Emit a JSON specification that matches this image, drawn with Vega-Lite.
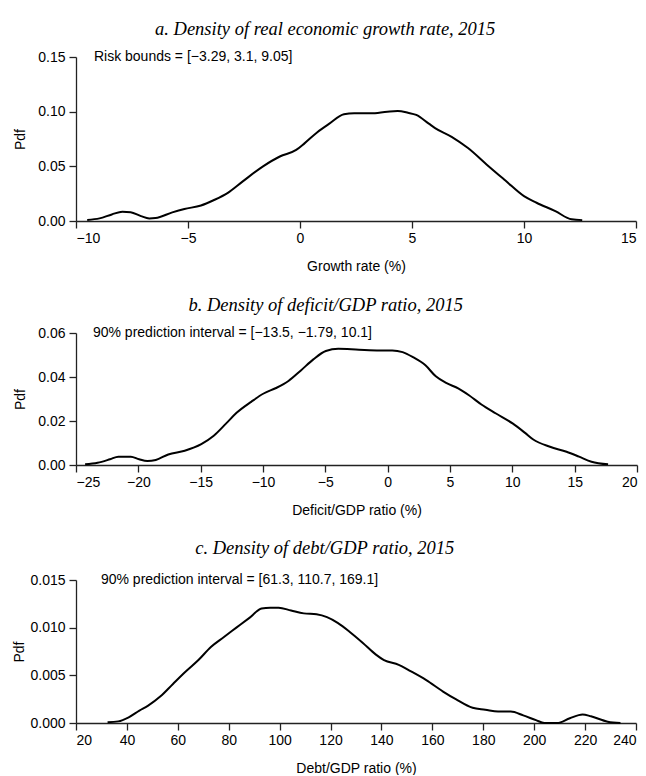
{
  "$schema": "https://vega.github.io/schema/vega-lite/v6.json",
  "background": "white",
  "padding": {"left": 12, "top": 19, "right": 6, "bottom": 0},
  "spacing": 22,
  "config": {
    "view": {"stroke": null},
    "font": "Liberation Sans",
    "title": {"font": "Liberation Serif", "fontStyle": "italic", "fontWeight": "normal", "fontSize": 18.5, "color": "black", "anchor": "middle", "frame": "bounds", "offset": 12},
    "axis": {
      "grid": false, "domainColor": "#222", "tickColor": "#222", "domainWidth": 1.3, "tickWidth": 1.3,
      "tickSize": 7, "labelFont": "Liberation Sans", "labelFontSize": 14, "labelColor": "black",
      "titleFont": "Liberation Sans", "titleFontSize": 14, "titleFontWeight": "normal", "titleColor": "black"
    },
    "axisX": {"labelPadding": 3, "titlePadding": 14},
    "axisY": {"labelPadding": 4, "titlePadding": 10}
  },
  "datasets": {
    "growth": [
      {"rate": -9.5, "pdf": 0.001}, {"rate": -8.95, "pdf": 0.0024}, {"rate": -8.4, "pdf": 0.006}, {"rate": -7.93, "pdf": 0.0085},
      {"rate": -7.56, "pdf": 0.008}, {"rate": -7.1, "pdf": 0.0045}, {"rate": -6.73, "pdf": 0.0024}, {"rate": -6.45, "pdf": 0.0027},
      {"rate": -5.7, "pdf": 0.0079}, {"rate": -5.16, "pdf": 0.011}, {"rate": -4.42, "pdf": 0.0142}, {"rate": -3.86, "pdf": 0.019},
      {"rate": -3.22, "pdf": 0.0258}, {"rate": -2.57, "pdf": 0.036}, {"rate": -1.65, "pdf": 0.05}, {"rate": -0.9, "pdf": 0.059},
      {"rate": -0.17, "pdf": 0.065}, {"rate": 0.2, "pdf": 0.071}, {"rate": 0.76, "pdf": 0.081}, {"rate": 1.31, "pdf": 0.089},
      {"rate": 1.96, "pdf": 0.0976}, {"rate": 2.42, "pdf": 0.0985}, {"rate": 3.16, "pdf": 0.0985}, {"rate": 3.9, "pdf": 0.1},
      {"rate": 4.36, "pdf": 0.1006}, {"rate": 4.82, "pdf": 0.099}, {"rate": 5.19, "pdf": 0.097}, {"rate": 5.75, "pdf": 0.089},
      {"rate": 6.03, "pdf": 0.085}, {"rate": 6.77, "pdf": 0.077}, {"rate": 7.5, "pdf": 0.0667}, {"rate": 8.34, "pdf": 0.0515},
      {"rate": 9.17, "pdf": 0.037}, {"rate": 10.0, "pdf": 0.0227}, {"rate": 10.56, "pdf": 0.0167}, {"rate": 11.4, "pdf": 0.009},
      {"rate": 12.13, "pdf": 0.0015}, {"rate": 12.6, "pdf": 0.0008}
    ],
    "deficit": [
      {"ratio": -24.27, "pdf": 0.0003}, {"ratio": -23.27, "pdf": 0.001}, {"ratio": -22.27, "pdf": 0.0026}, {"ratio": -21.6, "pdf": 0.0038},
      {"ratio": -20.6, "pdf": 0.0038}, {"ratio": -19.94, "pdf": 0.0026}, {"ratio": -19.27, "pdf": 0.0018}, {"ratio": -18.6, "pdf": 0.0023},
      {"ratio": -17.6, "pdf": 0.0048}, {"ratio": -16.28, "pdf": 0.0065}, {"ratio": -14.95, "pdf": 0.0095}, {"ratio": -13.95, "pdf": 0.0133},
      {"ratio": -12.95, "pdf": 0.0189}, {"ratio": -12.12, "pdf": 0.0237}, {"ratio": -10.95, "pdf": 0.0287}, {"ratio": -9.95, "pdf": 0.0325},
      {"ratio": -8.95, "pdf": 0.035}, {"ratio": -7.96, "pdf": 0.0382}, {"ratio": -6.96, "pdf": 0.043}, {"ratio": -5.96, "pdf": 0.048},
      {"ratio": -4.96, "pdf": 0.0518}, {"ratio": -3.96, "pdf": 0.0528}, {"ratio": -2.3, "pdf": 0.0524}, {"ratio": -0.63, "pdf": 0.0521},
      {"ratio": 0.37, "pdf": 0.0521}, {"ratio": 1.2, "pdf": 0.0513}, {"ratio": 2.03, "pdf": 0.049}, {"ratio": 3.03, "pdf": 0.0453},
      {"ratio": 3.86, "pdf": 0.0403}, {"ratio": 4.69, "pdf": 0.0373}, {"ratio": 5.69, "pdf": 0.0347}, {"ratio": 6.52, "pdf": 0.0317},
      {"ratio": 7.52, "pdf": 0.0275}, {"ratio": 8.69, "pdf": 0.0234}, {"ratio": 10.02, "pdf": 0.0189}, {"ratio": 11.02, "pdf": 0.0146},
      {"ratio": 11.68, "pdf": 0.0116}, {"ratio": 13.02, "pdf": 0.0083}, {"ratio": 14.35, "pdf": 0.006}, {"ratio": 15.35, "pdf": 0.0038},
      {"ratio": 16.35, "pdf": 0.0015}, {"ratio": 17.68, "pdf": 0.0003}
    ],
    "debt": [
      {"ratio": 32.4, "pdf": 0.00007}, {"ratio": 36.6, "pdf": 0.00017}, {"ratio": 40.7, "pdf": 0.0006}, {"ratio": 44.9, "pdf": 0.0013},
      {"ratio": 48.2, "pdf": 0.0018}, {"ratio": 53.2, "pdf": 0.0028}, {"ratio": 58.1, "pdf": 0.0041}, {"ratio": 63.1, "pdf": 0.0054},
      {"ratio": 68.1, "pdf": 0.0066}, {"ratio": 73.1, "pdf": 0.008}, {"ratio": 78.0, "pdf": 0.009}, {"ratio": 83.0, "pdf": 0.01},
      {"ratio": 88.0, "pdf": 0.011}, {"ratio": 92.9, "pdf": 0.012}, {"ratio": 96.3, "pdf": 0.0121}, {"ratio": 99.6, "pdf": 0.0121},
      {"ratio": 104.5, "pdf": 0.0118}, {"ratio": 109.5, "pdf": 0.0115}, {"ratio": 114.5, "pdf": 0.0114}, {"ratio": 118.6, "pdf": 0.0111},
      {"ratio": 122.8, "pdf": 0.0105}, {"ratio": 127.8, "pdf": 0.0095}, {"ratio": 132.7, "pdf": 0.0084}, {"ratio": 137.7, "pdf": 0.0072},
      {"ratio": 141.0, "pdf": 0.0066}, {"ratio": 146.8, "pdf": 0.0061}, {"ratio": 151.0, "pdf": 0.0055}, {"ratio": 157.6, "pdf": 0.0045},
      {"ratio": 164.2, "pdf": 0.0033}, {"ratio": 169.2, "pdf": 0.0025}, {"ratio": 175.8, "pdf": 0.0016}, {"ratio": 180.8, "pdf": 0.0014},
      {"ratio": 185.8, "pdf": 0.0012}, {"ratio": 190.8, "pdf": 0.0012}, {"ratio": 195.7, "pdf": 0.0008}, {"ratio": 200.7, "pdf": 0.0003},
      {"ratio": 204.0, "pdf": 0.0}, {"ratio": 209.0, "pdf": 0.0}, {"ratio": 214.0, "pdf": 0.0005}, {"ratio": 219.0, "pdf": 0.0009},
      {"ratio": 222.3, "pdf": 0.0007}, {"ratio": 228.9, "pdf": 0.00014}, {"ratio": 233.9, "pdf": 0.0}
    ]
  },
  "vconcat": [
    {
      "title": "a. Density of real economic growth rate, 2015",
      "width": 560, "height": 164,
      "layer": [
        {
          "data": {"name": "growth"},
          "mark": {"type": "line", "color": "black", "strokeWidth": 2, "interpolate": "monotone"},
          "encoding": {
            "x": {"field": "rate", "type": "quantitative", "title": "Growth rate (%)",
                  "scale": {"domain": [-10, 15], "nice": false}, "axis": {"values": [-10, -5, 0, 5, 10, 15]}},
            "y": {"field": "pdf", "type": "quantitative", "title": "Pdf",
                  "scale": {"domain": [0, 0.15], "nice": false}, "axis": {"values": [0, 0.05, 0.1, 0.15], "format": ".2f"}}
          }
        },
        {
          "data": {"values": [{"label": "Risk bounds = [−3.29, 3.1, 9.05]"}]},
          "mark": {"type": "text", "align": "left", "baseline": "middle", "fontSize": 14, "color": "black"},
          "encoding": {"x": {"datum": -9.2}, "y": {"datum": 0.15}, "text": {"field": "label"}}
        }
      ]
    },
    {
      "title": "b. Density of deficit/GDP ratio, 2015",
      "width": 561, "height": 132,
      "layer": [
        {
          "data": {"name": "deficit"},
          "mark": {"type": "line", "color": "black", "strokeWidth": 2, "interpolate": "monotone"},
          "encoding": {
            "x": {"field": "ratio", "type": "quantitative", "title": "Deficit/GDP ratio (%)",
                  "scale": {"domain": [-25, 20], "nice": false}, "axis": {"values": [-25, -20, -15, -10, -5, 0, 5, 10, 15, 20]}},
            "y": {"field": "pdf", "type": "quantitative", "title": "Pdf",
                  "scale": {"domain": [0, 0.06], "nice": false}, "axis": {"values": [0, 0.02, 0.04, 0.06], "format": ".2f"}}
          }
        },
        {
          "data": {"values": [{"label": "90% prediction interval = [−13.5, −1.79, 10.1]"}]},
          "mark": {"type": "text", "align": "left", "baseline": "middle", "fontSize": 14, "color": "black"},
          "encoding": {"x": {"datum": -23.64}, "y": {"datum": 0.06}, "text": {"field": "label"}}
        }
      ]
    },
    {
      "title": {"text": "c. Density of debt/GDP ratio, 2015", "offset": 15.5},
      "width": 560, "height": 143,
      "layer": [
        {
          "data": {"name": "debt"},
          "mark": {"type": "line", "color": "black", "strokeWidth": 2, "interpolate": "monotone"},
          "encoding": {
            "x": {"field": "ratio", "type": "quantitative", "title": "Debt/GDP ratio (%)",
                  "scale": {"domain": [20, 240], "nice": false}, "axis": {"values": [20, 40, 60, 80, 100, 120, 140, 160, 180, 200, 220, 240]}},
            "y": {"field": "pdf", "type": "quantitative", "title": "Pdf",
                  "scale": {"domain": [0, 0.015], "nice": false}, "axis": {"values": [0, 0.005, 0.01, 0.015], "format": ".3f", "titlePadding": 3}}
          }
        },
        {
          "data": {"values": [{"label": "90% prediction interval = [61.3, 110.7, 169.1]"}]},
          "mark": {"type": "text", "align": "left", "baseline": "middle", "fontSize": 14, "color": "black"},
          "encoding": {"x": {"datum": 29.8}, "y": {"datum": 0.015}, "text": {"field": "label"}}
        }
      ]
    }
  ]
}
